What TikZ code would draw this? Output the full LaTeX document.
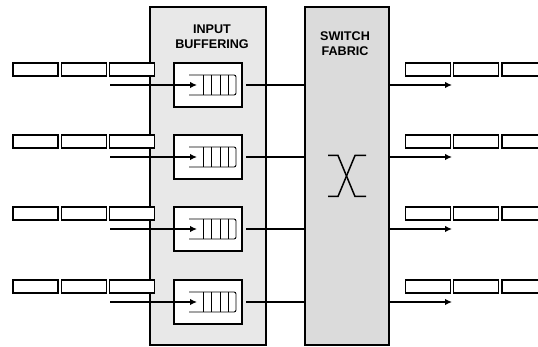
\documentclass[tikz,border=0pt]{standalone}
\usepackage{fontspec}
\setsansfont{Liberation Sans}
\usepackage{tikz}
\usetikzlibrary{arrows.meta, positioning, calc}
\tikzset{
  panelbox/.style={
    draw, line width=2pt, inner sep=0pt, minimum width=116pt,
    minimum height=338pt
  },
  paneltitle/.style={
    font=\sffamily\bfseries\fontsize{12.6}{15}\selectfont,
    align=center, inner sep=0pt, anchor=north
  },
  bufbox/.style={
    draw, line width=2pt, fill=white, inner sep=0pt,
    minimum width=68pt, minimum height=44pt
  },
  cellbox/.style={
    draw, line width=1.2pt, fill=white, inner sep=0pt,
    minimum width=45pt, minimum height=13pt
  },
  flowarrow/.style={
    -{Latex[length=7pt, width=6.5pt]}, line width=2pt
  },
  linkline/.style={line width=2pt, shorten <=3pt},
  queueline/.style={line width=0.9pt},
  crossline/.style={line width=1.5pt},
}

\begin{document}
\begin{tikzpicture}[x=1pt, y=-1pt]
  \path[use as bounding box, clip] (0,0) rectangle (538,347);

  % ── Panels ──
  \node[panelbox, fill=black!9] (inpanel) at (208,176) {};
  \node[panelbox, fill=black!14, minimum width=84pt, right=37pt of inpanel]
    (swpanel) {};

  \node[paneltitle] (intitle) at (212,25) {INPUT\\BUFFERING};
  \node[paneltitle] (swtitle) at (345,32) {SWITCH\\FABRIC};

  % ── Switch symbol ──
  \begin{scope}[shift={(swpanel.center)}]
    \draw[crossline] (-19,-20.5) -- (-9,-20.5) -- (8,20.5) -- (19,20.5);
    \draw[crossline] (-19,20.5) -- (-9,20.5) -- (8,-20.5) -- (19,-20.5);
  \end{scope}

  % ── Ports ──
  \foreach \ry [count=\i] in {85,157,229,302} {
    % input cells
    \node[cellbox] (inA\i) at (35.5,\ry-15.5) {};
    \node[cellbox, right=2pt of inA\i] (inB\i) {};
    \node[cellbox, right=2pt of inB\i] (inC\i) {};

    % buffer with queue
    \node[bufbox] (buf\i) at (208,\ry) {};
    \draw[queueline, rounded corners=2pt]
      ($(buf\i)+(-19,-10)$) -- ($(buf\i)+(28,-10)$)
      -- ($(buf\i)+(28,10)$) -- ($(buf\i)+(-19,10)$);
    \foreach \qx in {-5,3.5,12,20.5}
      \draw[queueline] ($(buf\i)+(\qx,-10)$) -- ($(buf\i)+(\qx,10)$);

    \coordinate (src\i) at (110,\ry);
    \coordinate (qin\i) at (197,\ry);
    \draw[flowarrow] (src\i) -- (qin\i);
    \draw[linkline] (buf\i.east) -- (swpanel.west |- buf\i.east);

    % output side
    \coordinate (dst\i) at (452,\ry);
    \draw[flowarrow] (swpanel.east |- buf\i.east) -- (dst\i);

    \node[cellbox] (outA\i) at (428,\ry-15.5) {};
    \node[cellbox, right=2pt of outA\i] (outB\i) {};
    \node[cellbox, right=2pt of outB\i] (outC\i) {};
  }
\end{tikzpicture}
\end{document}
